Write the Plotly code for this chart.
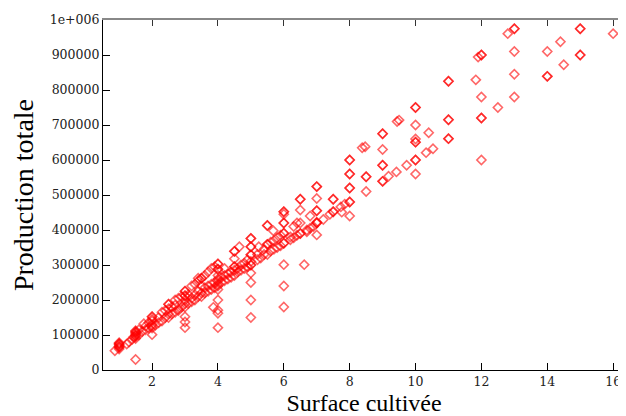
import plotly.graph_objects as go

# Surface cultivée (x) and Production totale (y); repeated pairs are overlapping points
surface = [
    1.0, 1.0, 1.0, 1.0, 1.0, 1.0, 1.0, 1.0, 0.87, 1.23, 1.3, 1.4, 1.45,
    1.5, 1.5, 1.5, 1.5, 1.5, 1.5, 1.5, 1.5, 1.5,
    1.6, 1.6, 1.7, 1.75, 1.8, 1.8, 1.9, 1.9,
    2.0, 2.0, 2.0, 2.0, 2.0, 2.0, 2.0, 2.0,
    2.1, 2.2, 2.2, 2.3, 2.3, 2.4, 2.4, 2.5, 2.5, 2.5, 2.5, 2.5,
    2.6, 2.6, 2.7, 2.7, 2.7, 2.8, 2.8, 2.8, 2.9, 2.9,
    3.0, 3.0, 3.0, 3.0, 3.0, 3.0, 3.0, 3.0, 3.0, 3.0,
    3.1, 3.1, 3.2, 3.2, 3.2, 3.3, 3.3, 3.3, 3.4, 3.4, 3.4, 3.4,
    3.5, 3.5, 3.5, 3.5, 3.5, 3.6, 3.6, 3.6, 3.7, 3.7, 3.7, 3.8, 3.8, 3.8,
    3.86, 3.9, 3.9, 3.9,
    4.0, 4.0, 4.0, 4.0, 4.0, 4.0, 4.0, 4.0, 4.0, 4.0, 4.0, 4.0, 4.0, 4.0,
    4.1, 4.1, 4.2, 4.2, 4.2, 4.3, 4.3, 4.4, 4.4,
    4.5, 4.5, 4.5, 4.5, 4.5, 4.5, 4.5, 4.65, 4.6, 4.6, 4.7, 4.7, 4.8, 4.8, 4.9, 4.9,
    5.0, 5.0, 5.0, 5.0, 5.0, 5.0, 5.0, 5.0, 5.0, 5.0, 5.0, 5.0,
    5.24, 5.2, 5.2, 5.3, 5.4, 5.4, 5.5, 5.5, 5.5, 5.5, 5.5,
    5.6, 5.6, 5.68, 5.7, 5.7, 5.8, 5.8, 5.9, 5.9,
    6.0, 6.0, 6.0, 6.0, 6.0, 6.0, 6.0, 6.0, 6.0, 6.0, 6.0, 6.0,
    6.2, 6.2, 6.3, 6.3, 6.4, 6.4, 6.5, 6.5, 6.5, 6.5, 6.5, 6.5, 5.0,
    6.62, 6.7, 6.7, 6.8, 6.8, 6.9,
    7.0, 7.0, 7.0, 7.0, 7.0, 7.0, 7.0, 7.0, 7.0,
    7.2, 7.4, 7.5, 7.5, 7.5, 7.5, 7.76, 7.73, 7.85,
    8.0, 8.0, 8.0, 8.0, 8.0, 8.0, 8.0, 8.0, 8.0,
    8.38, 8.47, 8.5, 8.5, 8.5,
    9.0, 9.0, 9.0, 9.0, 9.0, 9.0, 9.0, 9.18, 9.42, 9.44, 9.5, 9.73,
    10.0, 10.0, 10.0, 10.0, 10.0, 10.0, 10.0, 10.0, 10.0,
    10.32, 10.53, 10.4,
    11.0, 11.0, 11.0, 11.0, 11.0, 11.0, 11.83, 11.9,
    12.0, 12.0, 12.0, 12.0, 12.0, 12.0, 12.5, 12.8,
    13.0, 13.0, 13.0, 13.0, 13.0,
    14.0, 14.0, 14.0, 14.4, 14.5,
    15.0, 15.0, 15.0, 15.0, 16.0,
]

production = [
    60000, 64000, 68000, 72000, 76000, 78000, 66000, 74000, 55000, 74000, 80000, 88000, 95000,
    90000, 95000, 100000, 105000, 110000, 112000, 98000, 108000, 30000,
    100000, 115000, 110000, 132000, 115000, 125000, 120000, 135000,
    120000, 125000, 130000, 140000, 145000, 152000, 152000, 101000,
    128000, 135000, 150000, 140000, 165000, 150000, 170000, 150000, 160000, 175000, 188000, 188000,
    160000, 180000, 165000, 185000, 200000, 170000, 175000, 205000, 180000, 210000,
    180000, 190000, 200000, 212000, 212000, 225000, 225000, 152000, 137000, 121000,
    190000, 215000, 195000, 205000, 240000, 200000, 215000, 245000, 210000, 225000, 255000, 262000,
    210000, 220000, 240000, 262000, 262000, 220000, 235000, 270000, 225000, 240000, 280000, 230000, 245000, 290000,
    179000, 235000, 250000, 295000,
    240000, 245000, 255000, 260000, 270000, 288000, 288000, 303000, 303000, 230000, 200000, 171000, 162000, 121000,
    250000, 265000, 255000, 270000, 290000, 260000, 275000, 265000, 280000,
    270000, 285000, 295000, 295000, 318000, 339000, 339000, 352000, 280000, 290000, 285000, 300000, 290000, 305000, 295000, 315000,
    300000, 300000, 310000, 329000, 329000, 352000, 352000, 376000, 376000, 277000, 250000, 200000,
    352000, 315000, 330000, 320000, 330000, 345000, 330000, 359000, 359000, 413000, 413000,
    340000, 365000, 398000, 345000, 370000, 350000, 378000, 355000, 385000,
    362000, 362000, 391000, 391000, 420000, 420000, 452000, 452000, 445000, 301000, 240000, 180000,
    372000, 380000, 378000, 410000, 385000, 420000, 390000, 390000, 420000, 457000, 488000, 488000, 150000,
    301000, 395000, 400000, 405000, 440000, 410000,
    420000, 420000, 455000, 455000, 490000, 524000, 524000, 386000, 422000,
    430000, 445000, 452000, 452000, 488000, 488000, 451000, 466000, 474000,
    440000, 480000, 480000, 520000, 520000, 560000, 560000, 600000, 600000,
    635000, 638000, 510000, 552000, 552000,
    539000, 539000, 585000, 585000, 630000, 675000, 675000, 553500, 566000, 710000, 714000, 585000,
    560000, 600000, 600000, 651000, 651000, 700000, 750000, 750000, 660000,
    621000, 632000, 678000,
    661000, 661000, 715000, 715000, 825000, 825000, 829000, 894000,
    600000, 720000, 720000, 780000, 900000, 900000, 750000, 961000,
    780000, 845000, 910000, 975000, 975000,
    839000, 839000, 910000, 938000, 872000,
    900000, 900000, 975000, 975000, 961000,
]

x_ticks = [2, 4, 6, 8, 10, 12, 14, 16]
y_ticks = [0, 100000, 200000, 300000, 400000, 500000, 600000, 700000, 800000, 900000, 1000000]
y_tick_labels = ["0", "100000", "200000", "300000", "400000", "500000", "600000",
                 "700000", "800000", "900000", "1e+006"]

fig = go.Figure()
fig.add_trace(go.Scatter(
    x=surface, y=production, mode="markers",
    marker=dict(symbol="diamond-open", size=7, color="rgba(255,0,0,0.6)",
                line=dict(width=1.6, color="rgba(255,0,0,0.6)")),
    showlegend=False,
))
# invisible trace to carry the top axis
fig.add_trace(go.Scatter(x=[None], y=[None], xaxis="x2", showlegend=False))

tickfont = dict(family="DejaVu Serif", size=12.5, color="#222")
fig.update_layout(
    width=618, height=408,
    margin=dict(l=95, r=1, t=12, b=46),
    paper_bgcolor="white", plot_bgcolor="white",
    xaxis=dict(range=[0.51, 16.36], tickvals=x_ticks, ticks="inside", ticklen=7,
               tickcolor="black", showline=True, linecolor="black", linewidth=1.2,
               showgrid=False, zeroline=False, tickfont=tickfont, automargin=False,
               title=dict(text="Surface cultivée",
                          font=dict(family="Liberation Serif", size=24, color="black"),
                          standoff=9)),
    xaxis2=dict(range=[0.51, 16.36], overlaying="x", side="top", tickvals=x_ticks,
                ticks="inside", ticklen=6, tickcolor="#333", showticklabels=False,
                showline=True, linecolor="#888", linewidth=1.5, showgrid=False,
                zeroline=False, automargin=False),
    yaxis=dict(range=[0, 1000000], tickvals=y_ticks, ticktext=y_tick_labels,
               ticks="inside", ticklen=7, tickcolor="black", mirror="ticks",
               showline=True, linecolor="black", linewidth=1.2, showgrid=False,
               zeroline=False, tickfont=tickfont, automargin=False,
               title=dict(text="Production totale",
                          font=dict(family="Liberation Serif", size=28, color="black"),
                          standoff=9)),
)

fig.write_html("out.html")
